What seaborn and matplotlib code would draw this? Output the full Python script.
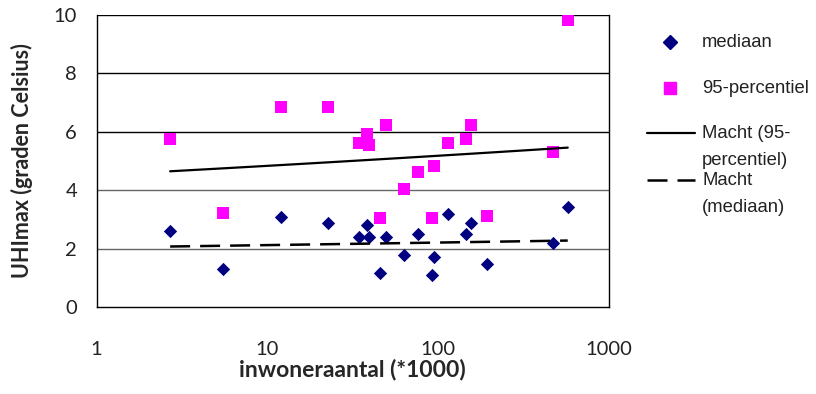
import numpy as np
import pandas as pd
import matplotlib
matplotlib.use('Agg')
import matplotlib.pyplot as plt
from matplotlib.ticker import FixedLocator, NullLocator
import seaborn as sns

sns.set_style('white')
plt.rcParams['font.family'] = ['Lato', 'DejaVu Sans']

# inwoneraantal (*1000) per stad
inwoners = [2.7, 5.5, 12, 22.6, 34.3, 38.7, 39.3, 46, 49.5, 63, 77, 92, 95.5,
            114, 146, 157, 193, 471, 577]
# UHImax mediaan
mediaan = [2.62, 1.31, 3.10, 2.89, 2.41, 2.80, 2.39, 1.18, 2.41, 1.78, 2.49,
           1.09, 1.71, 3.20, 2.49, 2.89, 1.48, 2.19, 3.42]
# UHImax 95-percentiel
perc95 = [5.75, 3.21, 6.85, 6.85, 5.63, 5.92, 5.54, 3.04, 6.23, 4.04, 4.61,
          3.04, 4.84, 5.62, 5.75, 6.23, 3.12, 5.31, 9.82]

df = pd.DataFrame({'inwoners': inwoners, 'mediaan': mediaan, 'perc95': perc95})

# machtsfunctie trendlijn y = a * x^b (fit in log-log)
def macht(x, y):
    b, loga = np.polyfit(np.log(x), np.log(y), 1)
    xs = np.geomspace(min(x), max(x), 60)
    return pd.DataFrame({'x': xs, 'y': np.exp(loga) * xs ** b})

fit95 = macht(df['inwoners'], df['perc95'])
fitmed = macht(df['inwoners'], df['mediaan'])

fig = plt.figure(figsize=(8.16, 3.94), dpi=100)
ax = fig.add_axes([96.5 / 816, 1 - 307.3 / 394, 512 / 816, 292.6 / 394])

ax.set_xscale('log')
for yv, c in [(2, '#666666'), (4, '#666666'), (6, 'black'), (8, 'black'), (10, 'black')]:
    ax.axhline(yv, color=c, lw=1.0, zorder=0)

sns.scatterplot(data=df, x='inwoners', y='mediaan', marker='D', color='#000080',
                s=46, linewidth=0, ax=ax, zorder=3)
sns.scatterplot(data=df, x='inwoners', y='perc95', marker='s', color='#FF00FF',
                s=83, linewidth=0, ax=ax, zorder=3)
sns.lineplot(data=fit95, x='x', y='y', color='black', lw=1.6, ax=ax, zorder=4)
sns.lineplot(data=fitmed, x='x', y='y', color='black', lw=1.8, ax=ax, zorder=4,
             dashes=False)
ax.lines[-1].set_dashes([8, 4])

ax.set_xlim(1, 1000)
ax.set_ylim(0, 10)
ax.xaxis.set_major_locator(FixedLocator([1, 10, 100, 1000]))
ax.xaxis.set_minor_locator(NullLocator())
ax.set_xticklabels(['1', '10', '100', '1000'])
ax.set_yticks([0, 2, 4, 6, 8, 10])
ax.tick_params(axis='both', direction='out', length=6, width=1, colors='black',
               labelsize=14.5, labelcolor='#222222')
ax.tick_params(axis='x', pad=18)
ax.tick_params(axis='y', pad=8)
for side in ['left', 'bottom', 'right']:
    ax.spines[side].set_color('black')
    ax.spines[side].set_linewidth(1)
ax.spines['top'].set_visible(False)

ax.set_xlabel('inwoneraantal (*1000)', fontsize=16.5, fontweight='bold')
ax.set_ylabel('UHImax (graden Celsius)', fontsize=15.5, fontweight='bold')
ax.xaxis.set_label_coords(0.499, -0.177)
ax.yaxis.set_label_coords(-0.124, 0.5)

# legenda rechts naast de grafiek
lax = fig.add_axes([0, 0, 1, 1])
lax.set_xlim(0, 816)
lax.set_ylim(394, 0)
lax.axis('off')
lf = dict(fontsize=13.3, family='Liberation Sans', va='center', color='#222222')
lax.plot([670], [42], marker='D', ms=6.8, color='#000080', ls='none')
lax.text(702, 42, 'mediaan', **lf)
lax.plot([670], [88], marker='s', ms=9, color='#FF00FF', ls='none')
lax.text(702, 88, '95-percentiel', **lf)
lax.plot([647, 695], [133, 133], color='black', lw=1.6)
lax.text(702, 133, 'Macht (95-', **lf)
lax.text(702, 160, 'percentiel)', **lf)
lax.plot([647, 695], [180, 180], color='black', lw=1.8, dashes=[8, 4])
lax.text(702, 180, 'Macht', **lf)
lax.text(702, 207, '(mediaan)', **lf)

fig.savefig('out.png', dpi=100)
